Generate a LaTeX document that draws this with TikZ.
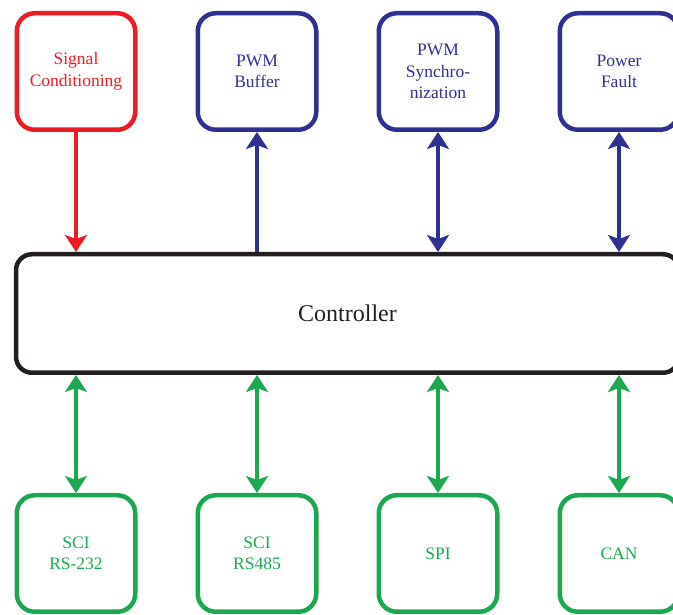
\documentclass[tikz,border=0pt]{standalone}
\usepackage{fontspec}
\setmainfont{Liberation Serif}
\usepackage{xcolor}
\usepackage{tikz}
\usetikzlibrary{arrows.meta,positioning}
\definecolor{sigred}{RGB}{237,28,36}
\definecolor{pwmblue}{RGB}{46,49,146}
\definecolor{busgreen}{RGB}{27,168,80}
\definecolor{ctrlblack}{RGB}{35,31,32}
\tikzset{
  iobox/.style={draw, rounded corners=18pt, line width=4.5pt, minimum width=118.5pt, minimum height=116.5pt, align=center, inner sep=2pt, font=\fontsize{17.5}{21.5}\selectfont},
  ctrlbox/.style={draw=ctrlblack, rounded corners=16pt, line width=4.5pt, minimum width=663pt, minimum height=118.5pt, font=\fontsize{24}{28}\selectfont, text=ctrlblack},
  onearrow/.style={-{Stealth[length=17pt,width=22pt,inset=4pt]}, line width=4pt},
  twoarrow/.style={{Stealth[length=17pt,width=22pt,inset=4pt]}-{Stealth[length=17pt,width=22pt,inset=4pt]}, line width=4pt},
}
\begin{document}
\begin{tikzpicture}[x=1pt, y=1pt, node distance=120pt and 58pt]
  \path[use as bounding box, clip] (0,0) rectangle (673,615);
  % peripheral blocks above the controller
  \node[iobox, sigred] (sigcond) at (76,543.5) {Signal\\Conditioning};
  \node[iobox, pwmblue, right=of sigcond] (pwmbuf) {PWM\\Buffer};
  \node[iobox, pwmblue, right=of pwmbuf] (pwmsync) {PWM\\Synchro-\\nization};
  \node[iobox, pwmblue, right=of pwmsync] (pwrfault) {Power\\Fault};

  \node[ctrlbox] (ctrl) at (347.5,301.5) {Controller};

  % communication interfaces below
  \node[iobox, busgreen] (sci232) at (76,61.5) {SCI\\RS-232};
  \node[iobox, busgreen, right=of sci232] (sci485) {SCI\\RS485};
  \node[iobox, busgreen, right=of sci485] (spi) {SPI};
  \node[iobox, busgreen, right=of spi] (can) {CAN};

  \draw[onearrow, sigred] (sigcond) -- (sigcond |- ctrl.north);
  \draw[onearrow, pwmblue] (pwmbuf |- ctrl.north) -- (pwmbuf);
  \foreach \n in {pwmsync, pwrfault}
    \draw[twoarrow, pwmblue] (\n) -- (\n |- ctrl.north);
  \foreach \n in {sci232, sci485, spi, can}
    \draw[twoarrow, busgreen] (ctrl.south -| \n) -- (\n);
\end{tikzpicture}
\end{document}
